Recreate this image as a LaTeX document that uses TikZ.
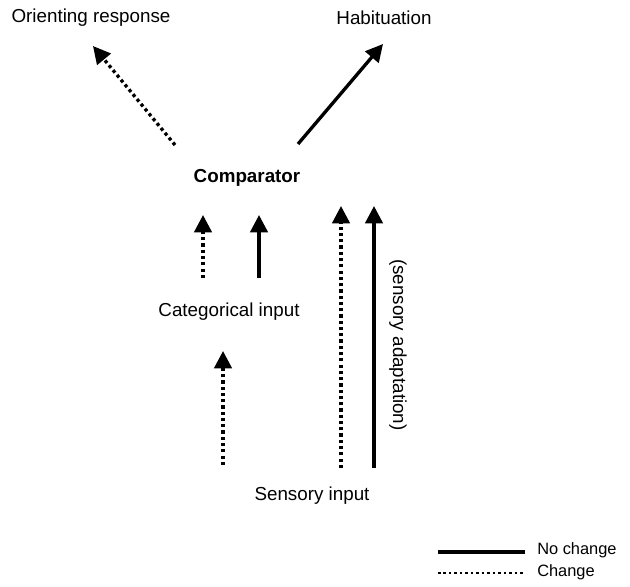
\documentclass[tikz,border=0pt]{standalone}
\usepackage{fontspec}
\setmainfont{Liberation Sans}
\usetikzlibrary{arrows.meta}
\begin{document}
\begin{tikzpicture}[x=0.75pt,y=-0.75pt,
  lbl/.style={font=\fontsize{14.1}{16}\selectfont, inner sep=0pt},
  leg/.style={font=\fontsize{12.3}{14}\selectfont, inner sep=0pt, anchor=west},
  solidarr/.style={line width=2.5pt, -{Triangle[length=13pt,width=13pt]}},
  dotarr/.style={line width=2.5pt, dash pattern=on 2.4pt off 2.3pt, -{Triangle[length=13pt,width=13pt]}},
  solidln/.style={line width=2.5pt},
  dotln/.style={line width=1.9pt, dash pattern=on 1.9pt off 2.2pt}]
\path[use as bounding box] (0,0) rectangle (630,586);
\node[lbl] (orient) at (91,18) {Orienting response};
\node[lbl] (habit) at (384,18) {Habituation};
\node[lbl,font=\fontsize{14.1}{16}\selectfont\bfseries] (comp) at (247,178) {Comparator};
\node[lbl] (cat) at (229,312) {Categorical input};
\node[lbl] (sens) at (312,496) {Sensory input};
\node[lbl,rotate=-90] (adapt) at (398,345) {(sensory adaptation)};
% endpoints
\coordinate (o1) at (175,145); \coordinate (o2) at (93,46);
\coordinate (h1) at (298,144); \coordinate (h2) at (383,44);
\coordinate (c1a) at (203,278); \coordinate (c1b) at (203,215);
\coordinate (c2a) at (259,278); \coordinate (c2b) at (259,215);
\coordinate (s1a) at (223,465); \coordinate (s1b) at (223,351);
\coordinate (s2a) at (341,468); \coordinate (s2b) at (341,206);
\coordinate (s3a) at (374,468); \coordinate (s3b) at (374,206);
\draw[dotarr] (o1) -- (o2);
\draw[solidarr] (h1) -- (h2);
\draw[dotarr] (c1a) -- (c1b);
\draw[solidarr] (c2a) -- (c2b);
\draw[dotarr] (s1a) -- (s1b);
\draw[dotarr] (s2a) -- (s2b);
\draw[solidarr] (s3a) -- (s3b);
% legend
\coordinate (l1a) at (438,552); \coordinate (l1b) at (525,552);
\coordinate (l2a) at (438,573); \coordinate (l2b) at (525,573);
\draw[solidln] (l1a) -- (l1b);
\draw[dotln] (l2a) -- (l2b);
\node[leg] (nc) at (537,550) {No change};
\node[leg] (ch) at (537,572) {Change};
\end{tikzpicture}
\end{document}
